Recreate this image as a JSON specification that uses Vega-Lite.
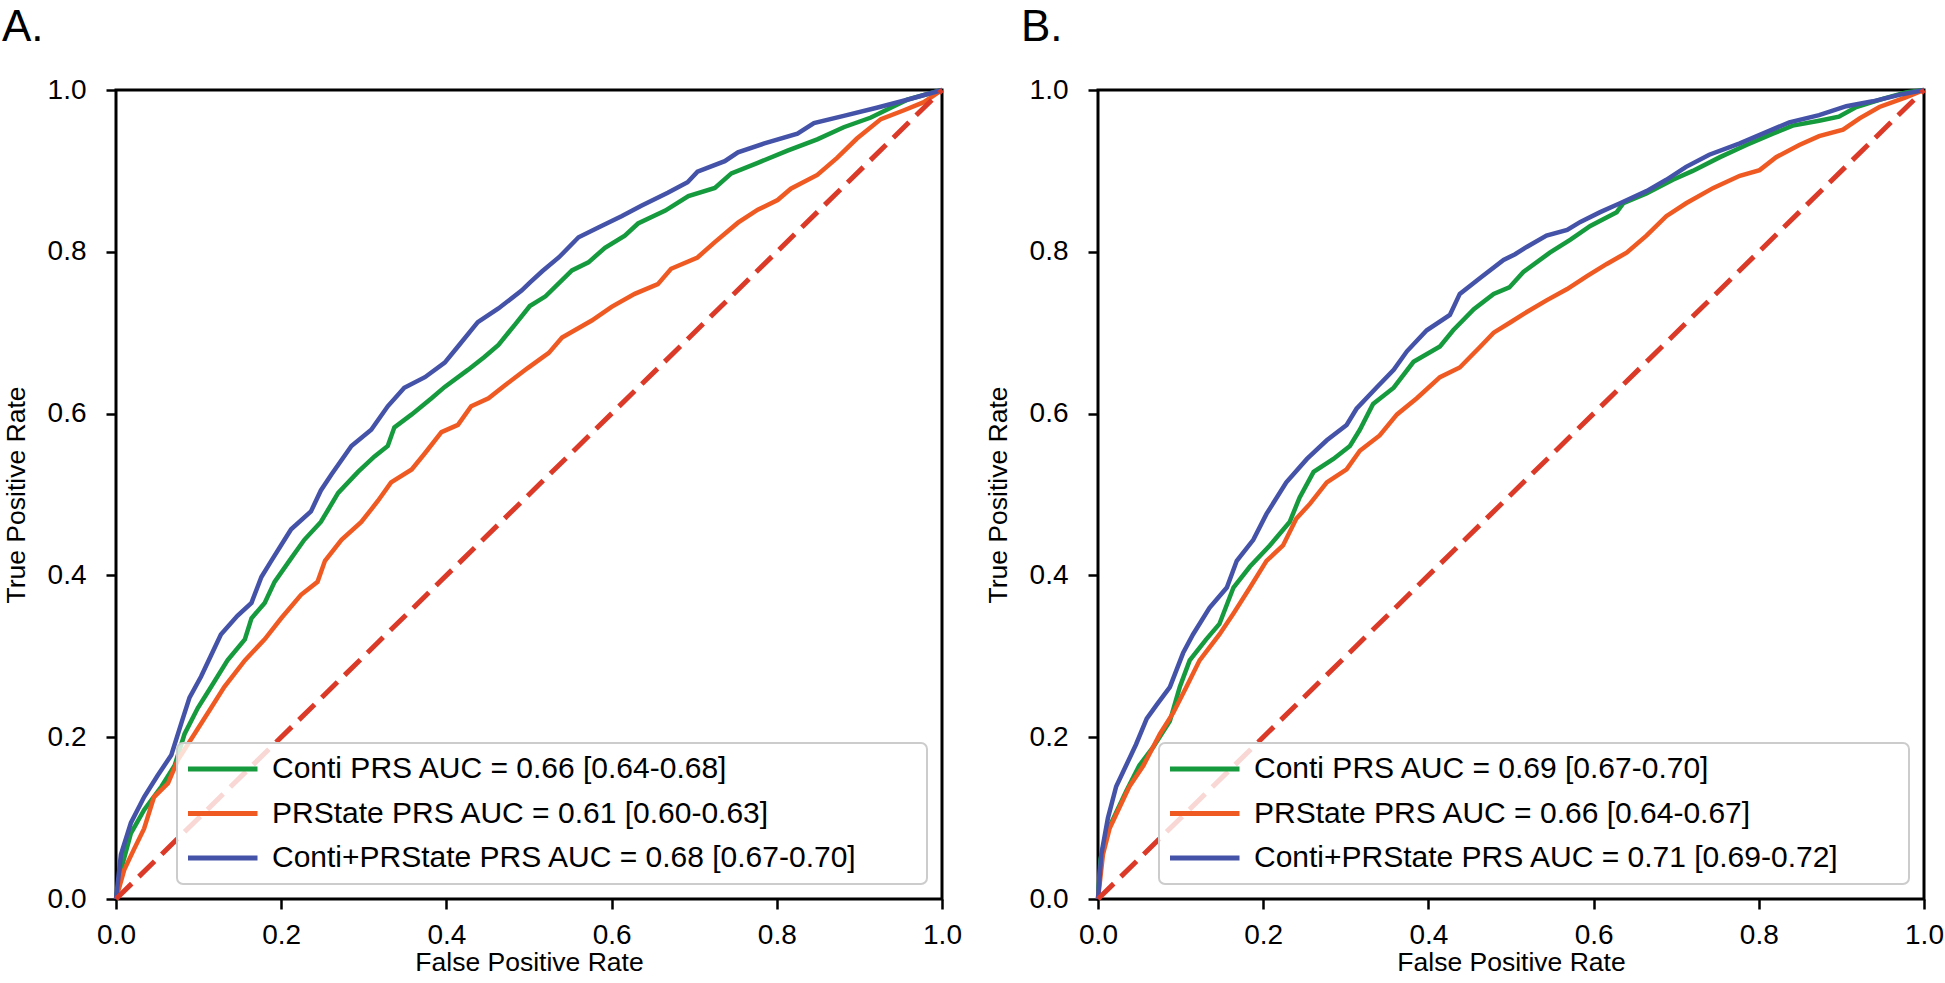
{
  "$schema": "https://vega.github.io/schema/vega-lite/v6.json",
  "background": "white",
  "padding": {"left": 0, "top": 4, "right": 0, "bottom": 0},
  "config": {
    "font": "Liberation Sans",
    "view": {"stroke": "black", "strokeWidth": 3},
    "axis": {"grid": false, "domain": false, "ticks": true, "tickColor": "black", "tickWidth": 2.5, "tickSize": 10, "labelFontSize": 28, "labelColor": "black", "titleFontSize": 26.5, "titleFontWeight": "normal", "titleColor": "black", "labelFlush": false, "labelOverlap": false},
    "axisX": {"labelPadding": 12, "titlePadding": 0},
    "axisY": {"labelPadding": 20, "titlePadding": 17},
    "legend": {"orient": "bottom-right", "offset": 15, "fillColor": "rgba(255,255,255,0.8)", "strokeColor": "#cccccc", "strokeWidth": 2, "cornerRadius": 6, "padding": 11, "symbolType": "stroke", "symbolSize": 4900, "symbolStrokeWidth": 5, "symbolOffset": -3, "clipHeight": 30, "rowPadding": 14.5, "labelOffset": 12, "labelFontSize": 30, "labelColor": "black", "labelLimit": 1000},
    "title": {"anchor": "start", "frame": "group", "fontSize": 44, "fontWeight": "normal", "color": "black", "offset": 26}
  },
  "resolve": {"scale": {"color": "independent"}, "legend": {"color": "independent"}},
  "spacing": 20,
  "hconcat": [
    {
      "title": {"text": "A.", "dx": -114},
      "width": 826,
      "height": 809,
      "encoding": {
        "x": {"field": "fpr", "type": "quantitative", "scale": {"domain": [0, 1]}, "axis": {"title": "False Positive Rate", "values": [0, 0.2, 0.4, 0.6, 0.8, 1], "format": ".1f"}},
        "y": {"field": "tpr", "type": "quantitative", "scale": {"domain": [0, 1]}, "axis": {"title": "True Positive Rate", "values": [0, 0.2, 0.4, 0.6, 0.8, 1], "format": ".1f"}}
      },
      "layer": [
        {
          "data": {"name": "rocA"},
          "mark": {"type": "line", "strokeWidth": 4.5, "interpolate": "linear"},
          "encoding": {
            "color": {"field": "model", "type": "nominal", "sort": null, "scale": {"domain": ["Conti PRS AUC = 0.66 [0.64-0.68]", "PRState PRS AUC = 0.61 [0.60-0.63]", "Conti+PRState PRS AUC = 0.68 [0.67-0.70]"], "range": ["#169a3e", "#ef5a23", "#4452a8"]}, "legend": {"title": null, "labelExpr": "datum.label + '\u00a0\u00a0\u00a0\u00a0\u00a0\u00a0\u00a0\u200b'"}},
            "order": {"field": "step", "type": "quantitative"}
          }
        },
        {
          "data": {"name": "diag"},
          "mark": {"type": "line", "color": "#dc3a28", "strokeWidth": 5, "strokeDash": [22, 10]},
          "encoding": {}
        }
      ]
    },
    {
      "title": {"text": "B.", "dx": -77},
      "width": 826,
      "height": 809,
      "encoding": {
        "x": {"field": "fpr", "type": "quantitative", "scale": {"domain": [0, 1]}, "axis": {"title": "False Positive Rate", "values": [0, 0.2, 0.4, 0.6, 0.8, 1], "format": ".1f"}},
        "y": {"field": "tpr", "type": "quantitative", "scale": {"domain": [0, 1]}, "axis": {"title": "True Positive Rate", "values": [0, 0.2, 0.4, 0.6, 0.8, 1], "format": ".1f"}}
      },
      "layer": [
        {
          "data": {"name": "rocB"},
          "mark": {"type": "line", "strokeWidth": 4.5, "interpolate": "linear"},
          "encoding": {
            "color": {"field": "model", "type": "nominal", "sort": null, "scale": {"domain": ["Conti PRS AUC = 0.69 [0.67-0.70]", "PRState PRS AUC = 0.66 [0.64-0.67]", "Conti+PRState PRS AUC = 0.71 [0.69-0.72]"], "range": ["#169a3e", "#ef5a23", "#4452a8"]}, "legend": {"title": null, "labelExpr": "datum.label + '\u00a0\u00a0\u00a0\u00a0\u00a0\u00a0\u00a0\u200b'"}},
            "order": {"field": "step", "type": "quantitative"}
          }
        },
        {
          "data": {"name": "diag"},
          "mark": {"type": "line", "color": "#dc3a28", "strokeWidth": 5, "strokeDash": [22, 10]},
          "encoding": {}
        }
      ]
    }
  ],
  "datasets": {
    "diag": [{"fpr": 0, "tpr": 0}, {"fpr": 1, "tpr": 1}],
    "rocA": [
      {"model": "Conti PRS AUC = 0.66 [0.64-0.68]", "step": 0, "fpr": 0, "tpr": 0},
      {"model": "Conti PRS AUC = 0.66 [0.64-0.68]", "step": 1, "fpr": 0.006, "tpr": 0.036},
      {"model": "Conti PRS AUC = 0.66 [0.64-0.68]", "step": 2, "fpr": 0.018, "tpr": 0.081},
      {"model": "Conti PRS AUC = 0.66 [0.64-0.68]", "step": 3, "fpr": 0.034, "tpr": 0.11},
      {"model": "Conti PRS AUC = 0.66 [0.64-0.68]", "step": 4, "fpr": 0.055, "tpr": 0.139},
      {"model": "Conti PRS AUC = 0.66 [0.64-0.68]", "step": 5, "fpr": 0.071, "tpr": 0.165},
      {"model": "Conti PRS AUC = 0.66 [0.64-0.68]", "step": 6, "fpr": 0.083, "tpr": 0.204},
      {"model": "Conti PRS AUC = 0.66 [0.64-0.68]", "step": 7, "fpr": 0.099, "tpr": 0.236},
      {"model": "Conti PRS AUC = 0.66 [0.64-0.68]", "step": 8, "fpr": 0.115, "tpr": 0.262},
      {"model": "Conti PRS AUC = 0.66 [0.64-0.68]", "step": 9, "fpr": 0.135, "tpr": 0.295},
      {"model": "Conti PRS AUC = 0.66 [0.64-0.68]", "step": 10, "fpr": 0.156, "tpr": 0.321},
      {"model": "Conti PRS AUC = 0.66 [0.64-0.68]", "step": 11, "fpr": 0.164, "tpr": 0.347},
      {"model": "Conti PRS AUC = 0.66 [0.64-0.68]", "step": 12, "fpr": 0.18, "tpr": 0.366},
      {"model": "Conti PRS AUC = 0.66 [0.64-0.68]", "step": 13, "fpr": 0.192, "tpr": 0.392},
      {"model": "Conti PRS AUC = 0.66 [0.64-0.68]", "step": 14, "fpr": 0.212, "tpr": 0.421},
      {"model": "Conti PRS AUC = 0.66 [0.64-0.68]", "step": 15, "fpr": 0.228, "tpr": 0.444},
      {"model": "Conti PRS AUC = 0.66 [0.64-0.68]", "step": 16, "fpr": 0.248, "tpr": 0.466},
      {"model": "Conti PRS AUC = 0.66 [0.64-0.68]", "step": 17, "fpr": 0.269, "tpr": 0.502},
      {"model": "Conti PRS AUC = 0.66 [0.64-0.68]", "step": 18, "fpr": 0.293, "tpr": 0.528},
      {"model": "Conti PRS AUC = 0.66 [0.64-0.68]", "step": 19, "fpr": 0.313, "tpr": 0.547},
      {"model": "Conti PRS AUC = 0.66 [0.64-0.68]", "step": 20, "fpr": 0.329, "tpr": 0.56},
      {"model": "Conti PRS AUC = 0.66 [0.64-0.68]", "step": 21, "fpr": 0.337, "tpr": 0.583},
      {"model": "Conti PRS AUC = 0.66 [0.64-0.68]", "step": 22, "fpr": 0.358, "tpr": 0.599},
      {"model": "Conti PRS AUC = 0.66 [0.64-0.68]", "step": 23, "fpr": 0.382, "tpr": 0.619},
      {"model": "Conti PRS AUC = 0.66 [0.64-0.68]", "step": 24, "fpr": 0.398, "tpr": 0.633},
      {"model": "Conti PRS AUC = 0.66 [0.64-0.68]", "step": 25, "fpr": 0.426, "tpr": 0.654},
      {"model": "Conti PRS AUC = 0.66 [0.64-0.68]", "step": 26, "fpr": 0.446, "tpr": 0.67},
      {"model": "Conti PRS AUC = 0.66 [0.64-0.68]", "step": 27, "fpr": 0.463, "tpr": 0.685},
      {"model": "Conti PRS AUC = 0.66 [0.64-0.68]", "step": 28, "fpr": 0.483, "tpr": 0.71},
      {"model": "Conti PRS AUC = 0.66 [0.64-0.68]", "step": 29, "fpr": 0.501, "tpr": 0.733},
      {"model": "Conti PRS AUC = 0.66 [0.64-0.68]", "step": 30, "fpr": 0.52, "tpr": 0.745},
      {"model": "Conti PRS AUC = 0.66 [0.64-0.68]", "step": 31, "fpr": 0.552, "tpr": 0.777},
      {"model": "Conti PRS AUC = 0.66 [0.64-0.68]", "step": 32, "fpr": 0.572, "tpr": 0.787},
      {"model": "Conti PRS AUC = 0.66 [0.64-0.68]", "step": 33, "fpr": 0.592, "tpr": 0.805},
      {"model": "Conti PRS AUC = 0.66 [0.64-0.68]", "step": 34, "fpr": 0.616, "tpr": 0.82},
      {"model": "Conti PRS AUC = 0.66 [0.64-0.68]", "step": 35, "fpr": 0.632, "tpr": 0.835},
      {"model": "Conti PRS AUC = 0.66 [0.64-0.68]", "step": 36, "fpr": 0.665, "tpr": 0.851},
      {"model": "Conti PRS AUC = 0.66 [0.64-0.68]", "step": 37, "fpr": 0.693, "tpr": 0.869},
      {"model": "Conti PRS AUC = 0.66 [0.64-0.68]", "step": 38, "fpr": 0.725, "tpr": 0.879},
      {"model": "Conti PRS AUC = 0.66 [0.64-0.68]", "step": 39, "fpr": 0.745, "tpr": 0.897},
      {"model": "Conti PRS AUC = 0.66 [0.64-0.68]", "step": 40, "fpr": 0.777, "tpr": 0.91},
      {"model": "Conti PRS AUC = 0.66 [0.64-0.68]", "step": 41, "fpr": 0.813, "tpr": 0.925},
      {"model": "Conti PRS AUC = 0.66 [0.64-0.68]", "step": 42, "fpr": 0.849, "tpr": 0.939},
      {"model": "Conti PRS AUC = 0.66 [0.64-0.68]", "step": 43, "fpr": 0.881, "tpr": 0.954},
      {"model": "Conti PRS AUC = 0.66 [0.64-0.68]", "step": 44, "fpr": 0.914, "tpr": 0.966},
      {"model": "Conti PRS AUC = 0.66 [0.64-0.68]", "step": 45, "fpr": 0.938, "tpr": 0.978},
      {"model": "Conti PRS AUC = 0.66 [0.64-0.68]", "step": 46, "fpr": 0.958, "tpr": 0.988},
      {"model": "Conti PRS AUC = 0.66 [0.64-0.68]", "step": 47, "fpr": 1, "tpr": 1},
      {"model": "PRState PRS AUC = 0.61 [0.60-0.63]", "step": 0, "fpr": 0, "tpr": 0},
      {"model": "PRState PRS AUC = 0.61 [0.60-0.63]", "step": 1, "fpr": 0.01, "tpr": 0.036},
      {"model": "PRState PRS AUC = 0.61 [0.60-0.63]", "step": 2, "fpr": 0.022, "tpr": 0.062},
      {"model": "PRState PRS AUC = 0.61 [0.60-0.63]", "step": 3, "fpr": 0.034, "tpr": 0.087},
      {"model": "PRState PRS AUC = 0.61 [0.60-0.63]", "step": 4, "fpr": 0.046, "tpr": 0.126},
      {"model": "PRState PRS AUC = 0.61 [0.60-0.63]", "step": 5, "fpr": 0.063, "tpr": 0.143},
      {"model": "PRState PRS AUC = 0.61 [0.60-0.63]", "step": 6, "fpr": 0.075, "tpr": 0.172},
      {"model": "PRState PRS AUC = 0.61 [0.60-0.63]", "step": 7, "fpr": 0.095, "tpr": 0.204},
      {"model": "PRState PRS AUC = 0.61 [0.60-0.63]", "step": 8, "fpr": 0.115, "tpr": 0.236},
      {"model": "PRState PRS AUC = 0.61 [0.60-0.63]", "step": 9, "fpr": 0.131, "tpr": 0.262},
      {"model": "PRState PRS AUC = 0.61 [0.60-0.63]", "step": 10, "fpr": 0.156, "tpr": 0.295},
      {"model": "PRState PRS AUC = 0.61 [0.60-0.63]", "step": 11, "fpr": 0.18, "tpr": 0.321},
      {"model": "PRState PRS AUC = 0.61 [0.60-0.63]", "step": 12, "fpr": 0.2, "tpr": 0.347},
      {"model": "PRState PRS AUC = 0.61 [0.60-0.63]", "step": 13, "fpr": 0.224, "tpr": 0.376},
      {"model": "PRState PRS AUC = 0.61 [0.60-0.63]", "step": 14, "fpr": 0.244, "tpr": 0.392},
      {"model": "PRState PRS AUC = 0.61 [0.60-0.63]", "step": 15, "fpr": 0.253, "tpr": 0.418},
      {"model": "PRState PRS AUC = 0.61 [0.60-0.63]", "step": 16, "fpr": 0.273, "tpr": 0.444},
      {"model": "PRState PRS AUC = 0.61 [0.60-0.63]", "step": 17, "fpr": 0.297, "tpr": 0.466},
      {"model": "PRState PRS AUC = 0.61 [0.60-0.63]", "step": 18, "fpr": 0.317, "tpr": 0.492},
      {"model": "PRState PRS AUC = 0.61 [0.60-0.63]", "step": 19, "fpr": 0.333, "tpr": 0.515},
      {"model": "PRState PRS AUC = 0.61 [0.60-0.63]", "step": 20, "fpr": 0.358, "tpr": 0.531},
      {"model": "PRState PRS AUC = 0.61 [0.60-0.63]", "step": 21, "fpr": 0.374, "tpr": 0.551},
      {"model": "PRState PRS AUC = 0.61 [0.60-0.63]", "step": 22, "fpr": 0.394, "tpr": 0.577},
      {"model": "PRState PRS AUC = 0.61 [0.60-0.63]", "step": 23, "fpr": 0.414, "tpr": 0.586},
      {"model": "PRState PRS AUC = 0.61 [0.60-0.63]", "step": 24, "fpr": 0.43, "tpr": 0.609},
      {"model": "PRState PRS AUC = 0.61 [0.60-0.63]", "step": 25, "fpr": 0.451, "tpr": 0.619},
      {"model": "PRState PRS AUC = 0.61 [0.60-0.63]", "step": 26, "fpr": 0.471, "tpr": 0.635},
      {"model": "PRState PRS AUC = 0.61 [0.60-0.63]", "step": 27, "fpr": 0.498, "tpr": 0.656},
      {"model": "PRState PRS AUC = 0.61 [0.60-0.63]", "step": 28, "fpr": 0.524, "tpr": 0.675},
      {"model": "PRState PRS AUC = 0.61 [0.60-0.63]", "step": 29, "fpr": 0.54, "tpr": 0.694},
      {"model": "PRState PRS AUC = 0.61 [0.60-0.63]", "step": 30, "fpr": 0.576, "tpr": 0.715},
      {"model": "PRState PRS AUC = 0.61 [0.60-0.63]", "step": 31, "fpr": 0.6, "tpr": 0.732},
      {"model": "PRState PRS AUC = 0.61 [0.60-0.63]", "step": 32, "fpr": 0.628, "tpr": 0.748},
      {"model": "PRState PRS AUC = 0.61 [0.60-0.63]", "step": 33, "fpr": 0.656, "tpr": 0.76},
      {"model": "PRState PRS AUC = 0.61 [0.60-0.63]", "step": 34, "fpr": 0.672, "tpr": 0.779},
      {"model": "PRState PRS AUC = 0.61 [0.60-0.63]", "step": 35, "fpr": 0.704, "tpr": 0.793},
      {"model": "PRState PRS AUC = 0.61 [0.60-0.63]", "step": 36, "fpr": 0.725, "tpr": 0.812},
      {"model": "PRState PRS AUC = 0.61 [0.60-0.63]", "step": 37, "fpr": 0.753, "tpr": 0.836},
      {"model": "PRState PRS AUC = 0.61 [0.60-0.63]", "step": 38, "fpr": 0.777, "tpr": 0.852},
      {"model": "PRState PRS AUC = 0.61 [0.60-0.63]", "step": 39, "fpr": 0.801, "tpr": 0.864},
      {"model": "PRState PRS AUC = 0.61 [0.60-0.63]", "step": 40, "fpr": 0.817, "tpr": 0.878},
      {"model": "PRState PRS AUC = 0.61 [0.60-0.63]", "step": 41, "fpr": 0.849, "tpr": 0.895},
      {"model": "PRState PRS AUC = 0.61 [0.60-0.63]", "step": 42, "fpr": 0.873, "tpr": 0.916},
      {"model": "PRState PRS AUC = 0.61 [0.60-0.63]", "step": 43, "fpr": 0.897, "tpr": 0.94},
      {"model": "PRState PRS AUC = 0.61 [0.60-0.63]", "step": 44, "fpr": 0.926, "tpr": 0.964},
      {"model": "PRState PRS AUC = 0.61 [0.60-0.63]", "step": 45, "fpr": 0.954, "tpr": 0.975},
      {"model": "PRState PRS AUC = 0.61 [0.60-0.63]", "step": 46, "fpr": 0.978, "tpr": 0.985},
      {"model": "PRState PRS AUC = 0.61 [0.60-0.63]", "step": 47, "fpr": 1, "tpr": 1},
      {"model": "Conti+PRState PRS AUC = 0.68 [0.67-0.70]", "step": 0, "fpr": 0, "tpr": 0},
      {"model": "Conti+PRState PRS AUC = 0.68 [0.67-0.70]", "step": 1, "fpr": 0.006, "tpr": 0.055},
      {"model": "Conti+PRState PRS AUC = 0.68 [0.67-0.70]", "step": 2, "fpr": 0.018, "tpr": 0.094},
      {"model": "Conti+PRState PRS AUC = 0.68 [0.67-0.70]", "step": 3, "fpr": 0.034, "tpr": 0.126},
      {"model": "Conti+PRState PRS AUC = 0.68 [0.67-0.70]", "step": 4, "fpr": 0.05, "tpr": 0.152},
      {"model": "Conti+PRState PRS AUC = 0.68 [0.67-0.70]", "step": 5, "fpr": 0.067, "tpr": 0.178},
      {"model": "Conti+PRState PRS AUC = 0.68 [0.67-0.70]", "step": 6, "fpr": 0.079, "tpr": 0.217},
      {"model": "Conti+PRState PRS AUC = 0.68 [0.67-0.70]", "step": 7, "fpr": 0.089, "tpr": 0.249},
      {"model": "Conti+PRState PRS AUC = 0.68 [0.67-0.70]", "step": 8, "fpr": 0.103, "tpr": 0.275},
      {"model": "Conti+PRState PRS AUC = 0.68 [0.67-0.70]", "step": 9, "fpr": 0.115, "tpr": 0.301},
      {"model": "Conti+PRState PRS AUC = 0.68 [0.67-0.70]", "step": 10, "fpr": 0.127, "tpr": 0.327},
      {"model": "Conti+PRState PRS AUC = 0.68 [0.67-0.70]", "step": 11, "fpr": 0.147, "tpr": 0.35},
      {"model": "Conti+PRState PRS AUC = 0.68 [0.67-0.70]", "step": 12, "fpr": 0.164, "tpr": 0.366},
      {"model": "Conti+PRState PRS AUC = 0.68 [0.67-0.70]", "step": 13, "fpr": 0.176, "tpr": 0.398},
      {"model": "Conti+PRState PRS AUC = 0.68 [0.67-0.70]", "step": 14, "fpr": 0.188, "tpr": 0.418},
      {"model": "Conti+PRState PRS AUC = 0.68 [0.67-0.70]", "step": 15, "fpr": 0.204, "tpr": 0.444},
      {"model": "Conti+PRState PRS AUC = 0.68 [0.67-0.70]", "step": 16, "fpr": 0.212, "tpr": 0.457},
      {"model": "Conti+PRState PRS AUC = 0.68 [0.67-0.70]", "step": 17, "fpr": 0.236, "tpr": 0.479},
      {"model": "Conti+PRState PRS AUC = 0.68 [0.67-0.70]", "step": 18, "fpr": 0.248, "tpr": 0.505},
      {"model": "Conti+PRState PRS AUC = 0.68 [0.67-0.70]", "step": 19, "fpr": 0.261, "tpr": 0.525},
      {"model": "Conti+PRState PRS AUC = 0.68 [0.67-0.70]", "step": 20, "fpr": 0.285, "tpr": 0.56},
      {"model": "Conti+PRState PRS AUC = 0.68 [0.67-0.70]", "step": 21, "fpr": 0.309, "tpr": 0.58},
      {"model": "Conti+PRState PRS AUC = 0.68 [0.67-0.70]", "step": 22, "fpr": 0.329, "tpr": 0.609},
      {"model": "Conti+PRState PRS AUC = 0.68 [0.67-0.70]", "step": 23, "fpr": 0.349, "tpr": 0.632},
      {"model": "Conti+PRState PRS AUC = 0.68 [0.67-0.70]", "step": 24, "fpr": 0.374, "tpr": 0.645},
      {"model": "Conti+PRState PRS AUC = 0.68 [0.67-0.70]", "step": 25, "fpr": 0.398, "tpr": 0.663},
      {"model": "Conti+PRState PRS AUC = 0.68 [0.67-0.70]", "step": 26, "fpr": 0.414, "tpr": 0.683},
      {"model": "Conti+PRState PRS AUC = 0.68 [0.67-0.70]", "step": 27, "fpr": 0.438, "tpr": 0.713},
      {"model": "Conti+PRState PRS AUC = 0.68 [0.67-0.70]", "step": 28, "fpr": 0.463, "tpr": 0.73},
      {"model": "Conti+PRState PRS AUC = 0.68 [0.67-0.70]", "step": 29, "fpr": 0.491, "tpr": 0.752},
      {"model": "Conti+PRState PRS AUC = 0.68 [0.67-0.70]", "step": 30, "fpr": 0.501, "tpr": 0.762},
      {"model": "Conti+PRState PRS AUC = 0.68 [0.67-0.70]", "step": 31, "fpr": 0.516, "tpr": 0.776},
      {"model": "Conti+PRState PRS AUC = 0.68 [0.67-0.70]", "step": 32, "fpr": 0.536, "tpr": 0.793},
      {"model": "Conti+PRState PRS AUC = 0.68 [0.67-0.70]", "step": 33, "fpr": 0.56, "tpr": 0.818},
      {"model": "Conti+PRState PRS AUC = 0.68 [0.67-0.70]", "step": 34, "fpr": 0.584, "tpr": 0.83},
      {"model": "Conti+PRState PRS AUC = 0.68 [0.67-0.70]", "step": 35, "fpr": 0.612, "tpr": 0.844},
      {"model": "Conti+PRState PRS AUC = 0.68 [0.67-0.70]", "step": 36, "fpr": 0.636, "tpr": 0.857},
      {"model": "Conti+PRState PRS AUC = 0.68 [0.67-0.70]", "step": 37, "fpr": 0.668, "tpr": 0.873},
      {"model": "Conti+PRState PRS AUC = 0.68 [0.67-0.70]", "step": 38, "fpr": 0.692, "tpr": 0.886},
      {"model": "Conti+PRState PRS AUC = 0.68 [0.67-0.70]", "step": 39, "fpr": 0.704, "tpr": 0.899},
      {"model": "Conti+PRState PRS AUC = 0.68 [0.67-0.70]", "step": 40, "fpr": 0.737, "tpr": 0.912},
      {"model": "Conti+PRState PRS AUC = 0.68 [0.67-0.70]", "step": 41, "fpr": 0.753, "tpr": 0.923},
      {"model": "Conti+PRState PRS AUC = 0.68 [0.67-0.70]", "step": 42, "fpr": 0.785, "tpr": 0.934},
      {"model": "Conti+PRState PRS AUC = 0.68 [0.67-0.70]", "step": 43, "fpr": 0.825, "tpr": 0.946},
      {"model": "Conti+PRState PRS AUC = 0.68 [0.67-0.70]", "step": 44, "fpr": 0.845, "tpr": 0.959},
      {"model": "Conti+PRState PRS AUC = 0.68 [0.67-0.70]", "step": 45, "fpr": 0.881, "tpr": 0.968},
      {"model": "Conti+PRState PRS AUC = 0.68 [0.67-0.70]", "step": 46, "fpr": 0.921, "tpr": 0.978},
      {"model": "Conti+PRState PRS AUC = 0.68 [0.67-0.70]", "step": 47, "fpr": 0.958, "tpr": 0.988},
      {"model": "Conti+PRState PRS AUC = 0.68 [0.67-0.70]", "step": 48, "fpr": 1, "tpr": 1}
    ],
    "rocB": [
      {"model": "Conti PRS AUC = 0.69 [0.67-0.70]", "step": 0, "fpr": 0, "tpr": 0},
      {"model": "Conti PRS AUC = 0.69 [0.67-0.70]", "step": 1, "fpr": 0.003, "tpr": 0.049},
      {"model": "Conti PRS AUC = 0.69 [0.67-0.70]", "step": 2, "fpr": 0.01, "tpr": 0.081},
      {"model": "Conti PRS AUC = 0.69 [0.67-0.70]", "step": 3, "fpr": 0.022, "tpr": 0.107},
      {"model": "Conti PRS AUC = 0.69 [0.67-0.70]", "step": 4, "fpr": 0.034, "tpr": 0.133},
      {"model": "Conti PRS AUC = 0.69 [0.67-0.70]", "step": 5, "fpr": 0.05, "tpr": 0.165},
      {"model": "Conti PRS AUC = 0.69 [0.67-0.70]", "step": 6, "fpr": 0.067, "tpr": 0.188},
      {"model": "Conti PRS AUC = 0.69 [0.67-0.70]", "step": 7, "fpr": 0.087, "tpr": 0.22},
      {"model": "Conti PRS AUC = 0.69 [0.67-0.70]", "step": 8, "fpr": 0.099, "tpr": 0.262},
      {"model": "Conti PRS AUC = 0.69 [0.67-0.70]", "step": 9, "fpr": 0.111, "tpr": 0.295},
      {"model": "Conti PRS AUC = 0.69 [0.67-0.70]", "step": 10, "fpr": 0.131, "tpr": 0.321},
      {"model": "Conti PRS AUC = 0.69 [0.67-0.70]", "step": 11, "fpr": 0.147, "tpr": 0.34},
      {"model": "Conti PRS AUC = 0.69 [0.67-0.70]", "step": 12, "fpr": 0.164, "tpr": 0.385},
      {"model": "Conti PRS AUC = 0.69 [0.67-0.70]", "step": 13, "fpr": 0.184, "tpr": 0.411},
      {"model": "Conti PRS AUC = 0.69 [0.67-0.70]", "step": 14, "fpr": 0.208, "tpr": 0.437},
      {"model": "Conti PRS AUC = 0.69 [0.67-0.70]", "step": 15, "fpr": 0.232, "tpr": 0.466},
      {"model": "Conti PRS AUC = 0.69 [0.67-0.70]", "step": 16, "fpr": 0.244, "tpr": 0.496},
      {"model": "Conti PRS AUC = 0.69 [0.67-0.70]", "step": 17, "fpr": 0.261, "tpr": 0.528},
      {"model": "Conti PRS AUC = 0.69 [0.67-0.70]", "step": 18, "fpr": 0.285, "tpr": 0.544},
      {"model": "Conti PRS AUC = 0.69 [0.67-0.70]", "step": 19, "fpr": 0.305, "tpr": 0.56},
      {"model": "Conti PRS AUC = 0.69 [0.67-0.70]", "step": 20, "fpr": 0.317, "tpr": 0.58},
      {"model": "Conti PRS AUC = 0.69 [0.67-0.70]", "step": 21, "fpr": 0.333, "tpr": 0.612},
      {"model": "Conti PRS AUC = 0.69 [0.67-0.70]", "step": 22, "fpr": 0.358, "tpr": 0.632},
      {"model": "Conti PRS AUC = 0.69 [0.67-0.70]", "step": 23, "fpr": 0.382, "tpr": 0.664},
      {"model": "Conti PRS AUC = 0.69 [0.67-0.70]", "step": 24, "fpr": 0.414, "tpr": 0.683},
      {"model": "Conti PRS AUC = 0.69 [0.67-0.70]", "step": 25, "fpr": 0.43, "tpr": 0.703},
      {"model": "Conti PRS AUC = 0.69 [0.67-0.70]", "step": 26, "fpr": 0.455, "tpr": 0.729},
      {"model": "Conti PRS AUC = 0.69 [0.67-0.70]", "step": 27, "fpr": 0.479, "tpr": 0.748},
      {"model": "Conti PRS AUC = 0.69 [0.67-0.70]", "step": 28, "fpr": 0.498, "tpr": 0.756},
      {"model": "Conti PRS AUC = 0.69 [0.67-0.70]", "step": 29, "fpr": 0.515, "tpr": 0.775},
      {"model": "Conti PRS AUC = 0.69 [0.67-0.70]", "step": 30, "fpr": 0.547, "tpr": 0.799},
      {"model": "Conti PRS AUC = 0.69 [0.67-0.70]", "step": 31, "fpr": 0.572, "tpr": 0.815},
      {"model": "Conti PRS AUC = 0.69 [0.67-0.70]", "step": 32, "fpr": 0.596, "tpr": 0.832},
      {"model": "Conti PRS AUC = 0.69 [0.67-0.70]", "step": 33, "fpr": 0.628, "tpr": 0.849},
      {"model": "Conti PRS AUC = 0.69 [0.67-0.70]", "step": 34, "fpr": 0.636, "tpr": 0.86},
      {"model": "Conti PRS AUC = 0.69 [0.67-0.70]", "step": 35, "fpr": 0.664, "tpr": 0.872},
      {"model": "Conti PRS AUC = 0.69 [0.67-0.70]", "step": 36, "fpr": 0.696, "tpr": 0.889},
      {"model": "Conti PRS AUC = 0.69 [0.67-0.70]", "step": 37, "fpr": 0.72, "tpr": 0.9},
      {"model": "Conti PRS AUC = 0.69 [0.67-0.70]", "step": 38, "fpr": 0.753, "tpr": 0.917},
      {"model": "Conti PRS AUC = 0.69 [0.67-0.70]", "step": 39, "fpr": 0.785, "tpr": 0.932},
      {"model": "Conti PRS AUC = 0.69 [0.67-0.70]", "step": 40, "fpr": 0.817, "tpr": 0.946},
      {"model": "Conti PRS AUC = 0.69 [0.67-0.70]", "step": 41, "fpr": 0.841, "tpr": 0.956},
      {"model": "Conti PRS AUC = 0.69 [0.67-0.70]", "step": 42, "fpr": 0.873, "tpr": 0.962},
      {"model": "Conti PRS AUC = 0.69 [0.67-0.70]", "step": 43, "fpr": 0.897, "tpr": 0.967},
      {"model": "Conti PRS AUC = 0.69 [0.67-0.70]", "step": 44, "fpr": 0.918, "tpr": 0.979},
      {"model": "Conti PRS AUC = 0.69 [0.67-0.70]", "step": 45, "fpr": 0.95, "tpr": 0.989},
      {"model": "Conti PRS AUC = 0.69 [0.67-0.70]", "step": 46, "fpr": 0.978, "tpr": 0.997},
      {"model": "Conti PRS AUC = 0.69 [0.67-0.70]", "step": 47, "fpr": 1, "tpr": 1},
      {"model": "PRState PRS AUC = 0.66 [0.64-0.67]", "step": 0, "fpr": 0, "tpr": 0},
      {"model": "PRState PRS AUC = 0.66 [0.64-0.67]", "step": 1, "fpr": 0.006, "tpr": 0.055},
      {"model": "PRState PRS AUC = 0.66 [0.64-0.67]", "step": 2, "fpr": 0.014, "tpr": 0.087},
      {"model": "PRState PRS AUC = 0.66 [0.64-0.67]", "step": 3, "fpr": 0.026, "tpr": 0.113},
      {"model": "PRState PRS AUC = 0.66 [0.64-0.67]", "step": 4, "fpr": 0.038, "tpr": 0.139},
      {"model": "PRState PRS AUC = 0.66 [0.64-0.67]", "step": 5, "fpr": 0.055, "tpr": 0.165},
      {"model": "PRState PRS AUC = 0.66 [0.64-0.67]", "step": 6, "fpr": 0.075, "tpr": 0.204},
      {"model": "PRState PRS AUC = 0.66 [0.64-0.67]", "step": 7, "fpr": 0.091, "tpr": 0.23},
      {"model": "PRState PRS AUC = 0.66 [0.64-0.67]", "step": 8, "fpr": 0.107, "tpr": 0.262},
      {"model": "PRState PRS AUC = 0.66 [0.64-0.67]", "step": 9, "fpr": 0.123, "tpr": 0.295},
      {"model": "PRState PRS AUC = 0.66 [0.64-0.67]", "step": 10, "fpr": 0.147, "tpr": 0.327},
      {"model": "PRState PRS AUC = 0.66 [0.64-0.67]", "step": 11, "fpr": 0.164, "tpr": 0.353},
      {"model": "PRState PRS AUC = 0.66 [0.64-0.67]", "step": 12, "fpr": 0.184, "tpr": 0.385},
      {"model": "PRState PRS AUC = 0.66 [0.64-0.67]", "step": 13, "fpr": 0.204, "tpr": 0.418},
      {"model": "PRState PRS AUC = 0.66 [0.64-0.67]", "step": 14, "fpr": 0.224, "tpr": 0.437},
      {"model": "PRState PRS AUC = 0.66 [0.64-0.67]", "step": 15, "fpr": 0.24, "tpr": 0.47},
      {"model": "PRState PRS AUC = 0.66 [0.64-0.67]", "step": 16, "fpr": 0.257, "tpr": 0.489},
      {"model": "PRState PRS AUC = 0.66 [0.64-0.67]", "step": 17, "fpr": 0.277, "tpr": 0.515},
      {"model": "PRState PRS AUC = 0.66 [0.64-0.67]", "step": 18, "fpr": 0.301, "tpr": 0.531},
      {"model": "PRState PRS AUC = 0.66 [0.64-0.67]", "step": 19, "fpr": 0.317, "tpr": 0.554},
      {"model": "PRState PRS AUC = 0.66 [0.64-0.67]", "step": 20, "fpr": 0.341, "tpr": 0.573},
      {"model": "PRState PRS AUC = 0.66 [0.64-0.67]", "step": 21, "fpr": 0.362, "tpr": 0.599},
      {"model": "PRState PRS AUC = 0.66 [0.64-0.67]", "step": 22, "fpr": 0.386, "tpr": 0.619},
      {"model": "PRState PRS AUC = 0.66 [0.64-0.67]", "step": 23, "fpr": 0.414, "tpr": 0.645},
      {"model": "PRState PRS AUC = 0.66 [0.64-0.67]", "step": 24, "fpr": 0.438, "tpr": 0.657},
      {"model": "PRState PRS AUC = 0.66 [0.64-0.67]", "step": 25, "fpr": 0.463, "tpr": 0.683},
      {"model": "PRState PRS AUC = 0.66 [0.64-0.67]", "step": 26, "fpr": 0.479, "tpr": 0.7},
      {"model": "PRState PRS AUC = 0.66 [0.64-0.67]", "step": 27, "fpr": 0.498, "tpr": 0.712},
      {"model": "PRState PRS AUC = 0.66 [0.64-0.67]", "step": 28, "fpr": 0.515, "tpr": 0.723},
      {"model": "PRState PRS AUC = 0.66 [0.64-0.67]", "step": 29, "fpr": 0.543, "tpr": 0.74},
      {"model": "PRState PRS AUC = 0.66 [0.64-0.67]", "step": 30, "fpr": 0.568, "tpr": 0.754},
      {"model": "PRState PRS AUC = 0.66 [0.64-0.67]", "step": 31, "fpr": 0.592, "tpr": 0.77},
      {"model": "PRState PRS AUC = 0.66 [0.64-0.67]", "step": 32, "fpr": 0.616, "tpr": 0.785},
      {"model": "PRState PRS AUC = 0.66 [0.64-0.67]", "step": 33, "fpr": 0.64, "tpr": 0.799},
      {"model": "PRState PRS AUC = 0.66 [0.64-0.67]", "step": 34, "fpr": 0.664, "tpr": 0.82},
      {"model": "PRState PRS AUC = 0.66 [0.64-0.67]", "step": 35, "fpr": 0.688, "tpr": 0.844},
      {"model": "PRState PRS AUC = 0.66 [0.64-0.67]", "step": 36, "fpr": 0.712, "tpr": 0.86},
      {"model": "PRState PRS AUC = 0.66 [0.64-0.67]", "step": 37, "fpr": 0.745, "tpr": 0.879},
      {"model": "PRState PRS AUC = 0.66 [0.64-0.67]", "step": 38, "fpr": 0.777, "tpr": 0.894},
      {"model": "PRState PRS AUC = 0.66 [0.64-0.67]", "step": 39, "fpr": 0.801, "tpr": 0.901},
      {"model": "PRState PRS AUC = 0.66 [0.64-0.67]", "step": 40, "fpr": 0.821, "tpr": 0.917},
      {"model": "PRState PRS AUC = 0.66 [0.64-0.67]", "step": 41, "fpr": 0.849, "tpr": 0.932},
      {"model": "PRState PRS AUC = 0.66 [0.64-0.67]", "step": 42, "fpr": 0.873, "tpr": 0.943},
      {"model": "PRState PRS AUC = 0.66 [0.64-0.67]", "step": 43, "fpr": 0.902, "tpr": 0.951},
      {"model": "PRState PRS AUC = 0.66 [0.64-0.67]", "step": 44, "fpr": 0.922, "tpr": 0.965},
      {"model": "PRState PRS AUC = 0.66 [0.64-0.67]", "step": 45, "fpr": 0.946, "tpr": 0.979},
      {"model": "PRState PRS AUC = 0.66 [0.64-0.67]", "step": 46, "fpr": 0.978, "tpr": 0.991},
      {"model": "PRState PRS AUC = 0.66 [0.64-0.67]", "step": 47, "fpr": 1, "tpr": 1},
      {"model": "Conti+PRState PRS AUC = 0.71 [0.69-0.72]", "step": 0, "fpr": 0, "tpr": 0},
      {"model": "Conti+PRState PRS AUC = 0.71 [0.69-0.72]", "step": 1, "fpr": 0.004, "tpr": 0.055},
      {"model": "Conti+PRState PRS AUC = 0.71 [0.69-0.72]", "step": 2, "fpr": 0.012, "tpr": 0.1},
      {"model": "Conti+PRState PRS AUC = 0.71 [0.69-0.72]", "step": 3, "fpr": 0.022, "tpr": 0.139},
      {"model": "Conti+PRState PRS AUC = 0.71 [0.69-0.72]", "step": 4, "fpr": 0.034, "tpr": 0.165},
      {"model": "Conti+PRState PRS AUC = 0.71 [0.69-0.72]", "step": 5, "fpr": 0.046, "tpr": 0.191},
      {"model": "Conti+PRState PRS AUC = 0.71 [0.69-0.72]", "step": 6, "fpr": 0.059, "tpr": 0.223},
      {"model": "Conti+PRState PRS AUC = 0.71 [0.69-0.72]", "step": 7, "fpr": 0.071, "tpr": 0.24},
      {"model": "Conti+PRState PRS AUC = 0.71 [0.69-0.72]", "step": 8, "fpr": 0.087, "tpr": 0.262},
      {"model": "Conti+PRState PRS AUC = 0.71 [0.69-0.72]", "step": 9, "fpr": 0.103, "tpr": 0.304},
      {"model": "Conti+PRState PRS AUC = 0.71 [0.69-0.72]", "step": 10, "fpr": 0.115, "tpr": 0.327},
      {"model": "Conti+PRState PRS AUC = 0.71 [0.69-0.72]", "step": 11, "fpr": 0.135, "tpr": 0.36},
      {"model": "Conti+PRState PRS AUC = 0.71 [0.69-0.72]", "step": 12, "fpr": 0.156, "tpr": 0.385},
      {"model": "Conti+PRState PRS AUC = 0.71 [0.69-0.72]", "step": 13, "fpr": 0.168, "tpr": 0.418},
      {"model": "Conti+PRState PRS AUC = 0.71 [0.69-0.72]", "step": 14, "fpr": 0.188, "tpr": 0.444},
      {"model": "Conti+PRState PRS AUC = 0.71 [0.69-0.72]", "step": 15, "fpr": 0.204, "tpr": 0.476},
      {"model": "Conti+PRState PRS AUC = 0.71 [0.69-0.72]", "step": 16, "fpr": 0.228, "tpr": 0.515},
      {"model": "Conti+PRState PRS AUC = 0.71 [0.69-0.72]", "step": 17, "fpr": 0.253, "tpr": 0.544},
      {"model": "Conti+PRState PRS AUC = 0.71 [0.69-0.72]", "step": 18, "fpr": 0.277, "tpr": 0.567},
      {"model": "Conti+PRState PRS AUC = 0.71 [0.69-0.72]", "step": 19, "fpr": 0.301, "tpr": 0.586},
      {"model": "Conti+PRState PRS AUC = 0.71 [0.69-0.72]", "step": 20, "fpr": 0.313, "tpr": 0.606},
      {"model": "Conti+PRState PRS AUC = 0.71 [0.69-0.72]", "step": 21, "fpr": 0.337, "tpr": 0.632},
      {"model": "Conti+PRState PRS AUC = 0.71 [0.69-0.72]", "step": 22, "fpr": 0.358, "tpr": 0.654},
      {"model": "Conti+PRState PRS AUC = 0.71 [0.69-0.72]", "step": 23, "fpr": 0.374, "tpr": 0.677},
      {"model": "Conti+PRState PRS AUC = 0.71 [0.69-0.72]", "step": 24, "fpr": 0.398, "tpr": 0.703},
      {"model": "Conti+PRState PRS AUC = 0.71 [0.69-0.72]", "step": 25, "fpr": 0.426, "tpr": 0.722},
      {"model": "Conti+PRState PRS AUC = 0.71 [0.69-0.72]", "step": 26, "fpr": 0.438, "tpr": 0.748},
      {"model": "Conti+PRState PRS AUC = 0.71 [0.69-0.72]", "step": 27, "fpr": 0.463, "tpr": 0.768},
      {"model": "Conti+PRState PRS AUC = 0.71 [0.69-0.72]", "step": 28, "fpr": 0.491, "tpr": 0.79},
      {"model": "Conti+PRState PRS AUC = 0.71 [0.69-0.72]", "step": 29, "fpr": 0.505, "tpr": 0.797},
      {"model": "Conti+PRState PRS AUC = 0.71 [0.69-0.72]", "step": 30, "fpr": 0.519, "tpr": 0.806},
      {"model": "Conti+PRState PRS AUC = 0.71 [0.69-0.72]", "step": 31, "fpr": 0.543, "tpr": 0.82},
      {"model": "Conti+PRState PRS AUC = 0.71 [0.69-0.72]", "step": 32, "fpr": 0.568, "tpr": 0.827},
      {"model": "Conti+PRState PRS AUC = 0.71 [0.69-0.72]", "step": 33, "fpr": 0.584, "tpr": 0.837},
      {"model": "Conti+PRState PRS AUC = 0.71 [0.69-0.72]", "step": 34, "fpr": 0.608, "tpr": 0.849},
      {"model": "Conti+PRState PRS AUC = 0.71 [0.69-0.72]", "step": 35, "fpr": 0.632, "tpr": 0.86},
      {"model": "Conti+PRState PRS AUC = 0.71 [0.69-0.72]", "step": 36, "fpr": 0.664, "tpr": 0.875},
      {"model": "Conti+PRState PRS AUC = 0.71 [0.69-0.72]", "step": 37, "fpr": 0.688, "tpr": 0.889},
      {"model": "Conti+PRState PRS AUC = 0.71 [0.69-0.72]", "step": 38, "fpr": 0.712, "tpr": 0.905},
      {"model": "Conti+PRState PRS AUC = 0.71 [0.69-0.72]", "step": 39, "fpr": 0.74, "tpr": 0.92},
      {"model": "Conti+PRState PRS AUC = 0.71 [0.69-0.72]", "step": 40, "fpr": 0.777, "tpr": 0.934},
      {"model": "Conti+PRState PRS AUC = 0.71 [0.69-0.72]", "step": 41, "fpr": 0.809, "tpr": 0.948},
      {"model": "Conti+PRState PRS AUC = 0.71 [0.69-0.72]", "step": 42, "fpr": 0.837, "tpr": 0.96},
      {"model": "Conti+PRState PRS AUC = 0.71 [0.69-0.72]", "step": 43, "fpr": 0.873, "tpr": 0.969},
      {"model": "Conti+PRState PRS AUC = 0.71 [0.69-0.72]", "step": 44, "fpr": 0.906, "tpr": 0.98},
      {"model": "Conti+PRState PRS AUC = 0.71 [0.69-0.72]", "step": 45, "fpr": 0.938, "tpr": 0.986},
      {"model": "Conti+PRState PRS AUC = 0.71 [0.69-0.72]", "step": 46, "fpr": 0.97, "tpr": 0.994},
      {"model": "Conti+PRState PRS AUC = 0.71 [0.69-0.72]", "step": 47, "fpr": 1, "tpr": 1}
    ]
  }
}
